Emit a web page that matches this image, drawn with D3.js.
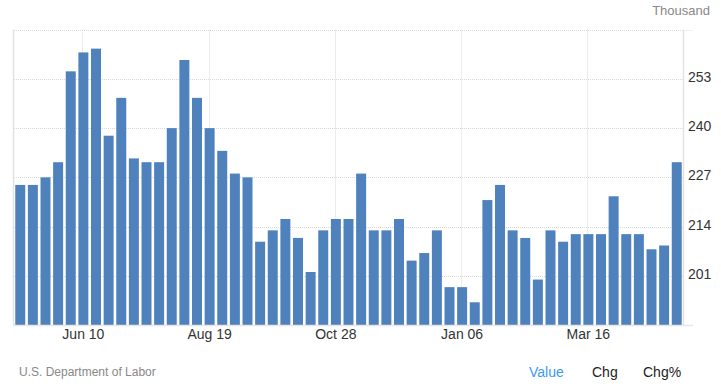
<!DOCTYPE html>
<html>
<head>
<meta charset="utf-8">
<script src="https://cdn.jsdelivr.net/npm/d3@7"></script>
<style>
  body { margin: 0; background: #fff; }
  svg { font-family: Arial, "Liberation Sans", sans-serif; display: block; }
</style>
</head>
<body>
<svg id="chart" width="721" height="388"></svg>
<script>
// weekly initial claims, weeks ending Saturday
const weeks = [
  "2023-05-06","2023-05-13","2023-05-20","2023-05-27","2023-06-03","2023-06-10","2023-06-17","2023-06-24",
  "2023-07-01","2023-07-08","2023-07-15","2023-07-22","2023-07-29","2023-08-05","2023-08-12","2023-08-19",
  "2023-08-26","2023-09-02","2023-09-09","2023-09-16","2023-09-23","2023-09-30","2023-10-07","2023-10-14",
  "2023-10-21","2023-10-28","2023-11-04","2023-11-11","2023-11-18","2023-11-25","2023-12-02","2023-12-09",
  "2023-12-16","2023-12-23","2023-12-30","2024-01-06","2024-01-13","2024-01-20","2024-01-27","2024-02-03",
  "2024-02-10","2024-02-17","2024-02-24","2024-03-02","2024-03-09","2024-03-16","2024-03-23","2024-03-30",
  "2024-04-06","2024-04-13","2024-04-20","2024-04-27","2024-05-04"
];
const claims = [
  225, 225, 227, 231, 255, 260, 261, 238, 248, 232, 231, 231, 240, 258, 248, 240,
  234, 228, 227, 210, 213, 216, 211, 202, 213, 216, 216, 228, 213, 213, 216, 205,
  207, 213, 198, 198, 194, 221, 225, 213, 211, 200, 213, 210, 212, 212, 212, 222,
  212, 212, 208, 209, 231
];
const xTicks = ["2023-06-10", "2023-08-19", "2023-10-28", "2024-01-06", "2024-03-16"];
const yTicks = [201, 214, 227, 240, 253, 266];
const yLabels = [201, 214, 227, 240, 253];

const svg = d3.select("#chart");
const plotLeft = 14, plotRight = 683, plotTop = 29.7, plotBottom = 325;

const x = d3.scaleBand().domain(weeks).range([plotLeft, plotRight]).paddingInner(0.21).paddingOuter(0.1);
const y = d3.scaleLinear().domain([188, 266]).range([plotBottom, plotTop]);
const parse = d3.timeParse("%Y-%m-%d");
const fmt = d3.timeFormat("%b %d");

// dotted grid
svg.append("g")
  .selectAll("line")
  .data(yTicks)
  .join("line")
  .attr("x1", plotLeft).attr("x2", plotRight)
  .attr("y1", d => Math.round(y(d)) + 0.5).attr("y2", d => Math.round(y(d)) + 0.5)
  .attr("stroke", "#d9d9d9").attr("stroke-dasharray", "1,1");
svg.append("line")
  .attr("x1", plotRight).attr("x2", 693)
  .attr("y1", Math.round(y(266)) + 0.5).attr("y2", Math.round(y(266)) + 0.5)
  .attr("stroke", "#f0f0f0");

svg.append("g")
  .selectAll("line")
  .data(xTicks)
  .join("line")
  .attr("x1", d => Math.round(x(d) + x.bandwidth() / 2) - 0.5)
  .attr("x2", d => Math.round(x(d) + x.bandwidth() / 2) - 0.5)
  .attr("y1", plotTop).attr("y2", plotBottom)
  .attr("stroke", "#d9d9d9").attr("stroke-dasharray", "1,1");

// bars
svg.append("g")
  .selectAll("rect")
  .data(claims)
  .join("rect")
  .attr("x", (d, i) => x(weeks[i]))
  .attr("width", x.bandwidth())
  .attr("y", d => y(d))
  .attr("height", d => plotBottom - y(d))
  .attr("fill", "#4f81bd");

// axis lines
svg.append("line")
  .attr("x1", plotLeft - 0.5).attr("x2", plotLeft - 0.5).attr("y1", plotTop).attr("y2", plotBottom)
  .attr("stroke", "#e3e3e3").attr("stroke-width", 1.5);
svg.append("line")
  .attr("x1", plotRight + 0.5).attr("x2", plotRight + 0.5).attr("y1", plotTop).attr("y2", plotBottom)
  .attr("stroke", "#e3e3e3").attr("stroke-width", 1.5);
svg.append("line")
  .attr("x1", plotLeft - 1).attr("x2", 693).attr("y1", plotBottom + 0.5).attr("y2", plotBottom + 0.5)
  .attr("stroke", "#e6e6e6").attr("stroke-width", 1.5);

// y labels on the right
svg.append("g")
  .selectAll("text")
  .data(yLabels)
  .join("text")
  .attr("x", 688)
  .attr("y", d => y(d) + 3)
  .attr("font-size", 14)
  .attr("fill", "#333")
  .text(d => d);

// x labels
svg.append("g")
  .selectAll("text")
  .data(xTicks)
  .join("text")
  .attr("x", d => x(d) + x.bandwidth() / 2)
  .attr("y", 339)
  .attr("text-anchor", "middle")
  .attr("font-size", 14)
  .attr("fill", "#333")
  .text(d => fmt(parse(d)));

// unit, source, toggles
svg.append("text")
  .attr("x", 710).attr("y", 15)
  .attr("text-anchor", "end")
  .attr("font-size", 13)
  .attr("fill", "#888")
  .text("Thousand");

svg.append("text")
  .attr("x", 19).attr("y", 376)
  .attr("font-size", 12)
  .attr("fill", "#888")
  .text("U.S. Department of Labor");

const toggles = [
  { label: "Value", x: 529, color: "#3d9bf0" },
  { label: "Chg", x: 592, color: "#222" },
  { label: "Chg%", x: 643, color: "#222" }
];
svg.append("g")
  .selectAll("text")
  .data(toggles)
  .join("text")
  .attr("x", d => d.x)
  .attr("y", 377)
  .attr("font-size", 14)
  .attr("fill", d => d.color)
  .text(d => d.label);
</script>
</body>
</html>
